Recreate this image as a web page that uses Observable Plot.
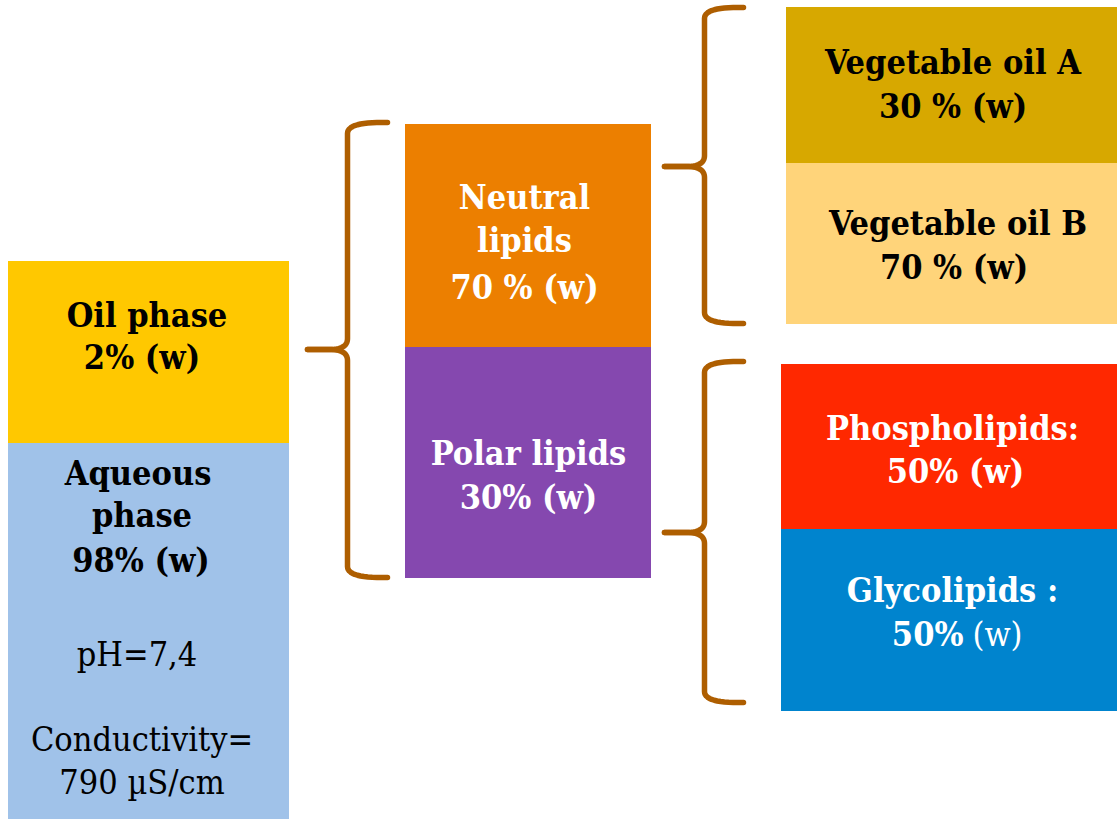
<!DOCTYPE html>
<html>
<head>
<meta charset="utf-8">
<script src="https://cdn.jsdelivr.net/npm/d3@7"></script>
<script src="https://cdn.jsdelivr.net/npm/@observablehq/plot@0.6"></script>
<style>
  html, body { margin: 0; padding: 0; background: #ffffff; }
  #chart svg { display: block; }
</style>
</head>
<body>
<div id="chart"></div>
<script>
// ---- data ----
const boxNames  = ["Oil phase", "Aqueous phase", "Neutral lipids", "Polar lipids",
                   "Vegetable oil A", "Vegetable oil B", "Phospholipids", "Glycolipids"];
const boxShares = ["2% (w)", "98% (w)", "70 % (w)", "30% (w)",
                   "30 % (w)", "70 % (w)", "50% (w)", "50% (w)"];
const aqueousProps = ["pH=7,4", "Conductivity=", "790 µS/cm"];

// ---- styles ----
const boxColors = ["#FFC800", "#A0C2E9", "#EC7F00", "#8548AF",
                   "#D7A800", "#FFD47A", "#FF2800", "#0084CE"];
const textColors = ["#000", "#000", "#fff", "#fff", "#000", "#000", "#fff", "#fff"];
const braceColor = "#AE5E00";
const FONT = "'DejaVu Serif Condensed', 'DejaVu Serif', serif";
const FS = 34;

// ---- layout (diagram units = pixels of the 1118x819 canvas) ----
const boxGeom = [
  [8, 289, 261, 443], [8, 289, 443, 819],
  [405, 651, 124, 347], [405, 651, 347, 578],
  [786, 1117, 7, 163], [786, 1117, 163, 324],
  [781, 1117, 364, 529], [781, 1117, 529, 711]
];
const boxes = boxNames.map((name, i) => ({
  name, share: boxShares[i],
  x1: boxGeom[i][0], x2: boxGeom[i][1], y1: boxGeom[i][2], y2: boxGeom[i][3],
  color: boxColors[i], textColor: textColors[i]
}));

// text lines: [box index, text, baseline, weight, dx]
const lineSpecs = [
  [0, "Oil phase", 326, "bold", -2], [0, boxShares[0], 368, "bold", -7],
  [1, "Aqueous", 484, "bold", -11], [1, "phase", 526, "bold", -7], [1, boxShares[1], 571, "bold", -8],
  [1, aqueousProps[0], 665, "normal", -12], [1, aqueousProps[1], 750, "normal", -7], [1, aqueousProps[2], 793, "normal", -7],
  [2, "Neutral", 208, "bold", -4], [2, "lipids", 251, "bold", -4], [2, boxShares[2], 298, "bold", -4],
  [3, boxNames[3], 464, "bold", 0], [3, boxShares[3], 508, "bold", 0],
  [4, boxNames[4], 73, "bold", 1], [4, boxShares[4], 117, "bold", 1],
  [5, boxNames[5], 234, "bold", 6], [5, boxShares[5], 278, "bold", 2],
  [6, boxNames[6] + ":", 439, "bold", 3], [6, boxShares[6], 482, "bold", 6]
];
const textLines = lineSpecs.map(([b, text, y, weight, dx]) => ({
  x: (boxes[b].x1 + boxes[b].x2) / 2 + dx, y, text, weight, fill: boxes[b].textColor
}));
// Glycolipids: "50%" bold + "(w)" regular
const glyco = boxes[7];
const glycoTitle = [{x: (glyco.x1 + glyco.x2) / 2 + 3, y: 601, text: boxNames[7] + " :"}];
const glycoBold = [{x: 963, y: 645, text: boxShares[7].split(" ")[0]}];
const glycoReg  = [{x: 972, y: 645, text: boxShares[7].split(" ")[1]}];

// braces: tip x, spine x, end x, top y, middle y, bottom y
const braceSpecs = [
  {id: "b1", tip: 307, spine: 347, end: 387, top: 122, mid: 349, bottom: 577},
  {id: "b2", tip: 664, spine: 704, end: 743, top: 7,   mid: 166, bottom: 323},
  {id: "b3", tip: 664, spine: 704, end: 743, top: 361, mid: 532, bottom: 702}
];
function quad(p0, c, p1, n = 14) {
  const pts = [];
  for (let k = 0; k <= n; k++) {
    const t = k / n, u = 1 - t;
    pts.push([u*u*p0[0] + 2*u*t*c[0] + t*t*p1[0], u*u*p0[1] + 2*u*t*c[1] + t*t*p1[1]]);
  }
  return pts;
}
const bracePts = [];
for (const b of braceSpecs) {
  const r = 11;
  const upper = [
    ...quad([b.end, b.top], [b.spine, b.top - 1], [b.spine, b.top + r]),
    ...quad([b.spine, b.mid - r], [b.spine, b.mid], [b.spine - 18, b.mid]),
    [b.tip, b.mid]
  ];
  const lower = [
    [b.tip, b.mid],
    ...quad([b.spine - 18, b.mid], [b.spine, b.mid], [b.spine, b.mid + r]),
    ...quad([b.spine, b.bottom - r], [b.spine, b.bottom + 1], [b.end, b.bottom])
  ];
  upper.forEach(([x, y]) => bracePts.push({x, y, z: b.id + "u"}));
  lower.forEach(([x, y]) => bracePts.push({x, y, z: b.id + "l"}));
}

const chart = Plot.plot({
  width: 1118, height: 819,
  margin: 0,
  x: {domain: [0, 1118], range: [0, 1118], axis: null},
  y: {domain: [0, 819], range: [0, 819], axis: null},
  style: {background: "#ffffff", fontFamily: FONT},
  marks: [
    Plot.rect(boxes, {x1: "x1", x2: "x2", y1: "y1", y2: "y2", fill: d => d.color}),
    Plot.line(bracePts, {x: "x", y: "y", z: "z", stroke: braceColor, strokeWidth: 5.5,
      strokeLinecap: "round", strokeLinejoin: "round", curve: "linear"}),
    Plot.text(textLines.filter(d => d.weight === "bold"), {x: "x", y: "y", text: "text", fill: d => d.fill,
      fontSize: FS, fontWeight: "bold", fontFamily: FONT, lineAnchor: "bottom"}),
    Plot.text(textLines.filter(d => d.weight !== "bold"), {x: "x", y: "y", text: "text", fill: d => d.fill,
      fontSize: FS, fontWeight: "normal", fontFamily: FONT, lineAnchor: "bottom"}),
    Plot.text(glycoTitle, {x: "x", y: "y", text: "text", fill: "#fff", fontSize: FS, fontWeight: "bold",
      fontFamily: FONT, lineAnchor: "bottom"}),
    Plot.text(glycoBold, {x: "x", y: "y", text: "text", fill: "#fff", fontSize: FS, fontWeight: "bold",
      fontFamily: FONT, lineAnchor: "bottom", textAnchor: "end"}),
    Plot.text(glycoReg, {x: "x", y: "y", text: "text", fill: "#fff", fontSize: FS, fontWeight: "normal",
      fontFamily: FONT, lineAnchor: "bottom", textAnchor: "start"})
  ]
});
document.getElementById("chart").appendChild(chart);
</script>
</body>
</html>
